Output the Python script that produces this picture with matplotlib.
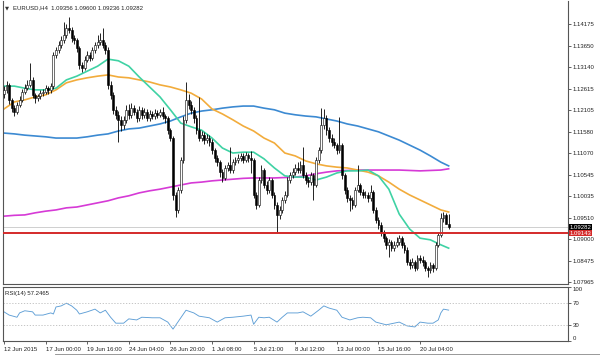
import matplotlib
matplotlib.use('Agg')

import numpy as np
import matplotlib.pyplot as plt

# EURUSD H4 candles
first_open = 1.1250
closes = [
    1.1259, 1.1271, 1.1235, 1.1215, 1.1206, 1.1223, 1.1235, 1.1254, 1.1263, 1.1271,
    1.1283, 1.1247, 1.1239, 1.1244, 1.1251, 1.1254, 1.1263, 1.1259, 1.1268, 1.1343,
    1.1355, 1.1367, 1.1379, 1.1391, 1.1408, 1.1403, 1.1384, 1.1379, 1.1360, 1.1319,
    1.1312, 1.1331, 1.1343, 1.1336, 1.1355, 1.1367, 1.1374, 1.1379, 1.1367, 1.1355,
    1.1271, 1.1247, 1.1211, 1.1199, 1.1187, 1.1174, 1.1187, 1.1211, 1.1199, 1.1215,
    1.1206, 1.1191, 1.1211, 1.1199, 1.1206, 1.1191, 1.1201, 1.1196, 1.1203, 1.1199,
    1.1206, 1.1196, 1.1191, 1.1162, 1.1143, 1.1006, 1.0970, 1.1018, 1.1090, 1.1187,
    1.1235, 1.1223, 1.1211, 1.1191, 1.1162, 1.1143, 1.1150, 1.1138, 1.1143, 1.1134,
    1.1114, 1.1095, 1.1085, 1.1061, 1.1047, 1.1071, 1.1078, 1.1066, 1.1085, 1.1090,
    1.1095, 1.1100, 1.1090, 1.1102, 1.1095, 1.1090, 1.1006, 1.0982, 1.1042, 1.1066,
    1.1030, 1.1018, 1.1042, 1.1006, 1.0982, 1.0958, 1.0970, 1.0994, 1.1006, 1.1042,
    1.1054, 1.1061, 1.1071, 1.1066, 1.1078, 1.1054, 1.1042, 1.1037, 1.1054, 1.1030,
    1.1090, 1.1114, 1.1174, 1.1191, 1.1162, 1.1143, 1.1134, 1.1126, 1.1114, 1.1126,
    1.1054, 1.1018, 1.0999, 1.0994, 1.0982, 1.1018, 1.1030, 1.1013, 1.1006, 1.1006,
    1.0999, 1.1013, 1.0970, 1.0946, 1.0934, 1.0917, 1.0902, 1.0886, 1.0893, 1.0878,
    1.0886, 1.0893, 1.0902, 1.0886, 1.0874, 1.0845, 1.0837, 1.0845, 1.0830, 1.0854,
    1.0850, 1.0845, 1.0830, 1.0825, 1.0837, 1.0830, 1.0886, 1.0910, 1.0951, 1.0958,
    1.0936, 1.0928,
]
highs = [
    1.1268, 1.1280, 1.1276, 1.1240, 1.1222, 1.1230, 1.1245, 1.1262, 1.1272, 1.1282,
    1.1324, 1.1290, 1.1252, 1.1250, 1.1258, 1.1262, 1.1270, 1.1268, 1.1275, 1.1350,
    1.1362, 1.1376, 1.1388, 1.1422, 1.1418, 1.1434, 1.1410, 1.1392, 1.1385, 1.1365,
    1.1325, 1.1340, 1.1352, 1.1350, 1.1362, 1.1375, 1.1390, 1.1395, 1.1408, 1.1375,
    1.1362, 1.1280, 1.1255, 1.1220, 1.1208, 1.1195, 1.1196, 1.1222, 1.1225, 1.1228,
    1.1222, 1.1212, 1.1220, 1.1218, 1.1215, 1.1212, 1.1210, 1.1208, 1.1212, 1.1210,
    1.1214, 1.1218, 1.1202, 1.1195, 1.1168, 1.1148, 1.1012, 1.1025, 1.1098, 1.1195,
    1.1278, 1.1250, 1.1232, 1.1218, 1.1198, 1.1242, 1.1160, 1.1158, 1.1152, 1.1150,
    1.1140, 1.1120, 1.1102, 1.1090, 1.1068, 1.1078, 1.1085, 1.1122, 1.1092, 1.1098,
    1.1104, 1.1108, 1.1106, 1.1110, 1.1108, 1.1112, 1.1095, 1.1012, 1.1050, 1.1078,
    1.1072, 1.1040, 1.1050, 1.1048, 1.1012, 1.0990, 1.0980, 1.1002, 1.1015, 1.1050,
    1.1062, 1.1070, 1.1080, 1.1085, 1.1088, 1.1122, 1.1062, 1.1050, 1.1062, 1.1060,
    1.1098, 1.1122, 1.1215, 1.1212, 1.1198, 1.1170, 1.1152, 1.1142, 1.1132, 1.1194,
    1.1130, 1.1060, 1.1025, 1.1006, 1.1000, 1.1025, 1.1078, 1.1036, 1.1020, 1.1015,
    1.1012, 1.1030, 1.1018, 1.0976, 1.0952, 1.0940, 1.0922, 1.0908, 1.0900, 1.0898,
    1.0895, 1.0905, 1.0910, 1.0908, 1.0892, 1.0880, 1.0852, 1.0855, 1.0850, 1.0862,
    1.0862, 1.0858, 1.0850, 1.0836, 1.0845, 1.0842, 1.0892, 1.0918, 1.0962, 1.0965,
    1.0963, 1.0960,
]
lows = [
    1.1240, 1.1252, 1.1226, 1.1205, 1.1196, 1.1200, 1.1218, 1.1230, 1.1248, 1.1258,
    1.1265, 1.1240, 1.1228, 1.1232, 1.1236, 1.1244, 1.1248, 1.1250, 1.1252, 1.1262,
    1.1336, 1.1348, 1.1360, 1.1372, 1.1385, 1.1395, 1.1375, 1.1370, 1.1350, 1.1310,
    1.1302, 1.1306, 1.1325, 1.1328, 1.1330, 1.1348, 1.1360, 1.1366, 1.1360, 1.1345,
    1.1262, 1.1238, 1.1200, 1.1188, 1.1134, 1.1160, 1.1165, 1.1180, 1.1190, 1.1192,
    1.1198, 1.1182, 1.1185, 1.1190, 1.1192, 1.1184, 1.1185, 1.1188, 1.1190, 1.1192,
    1.1194, 1.1190, 1.1180, 1.1152, 1.1135, 1.0995, 1.0953, 1.0962, 1.1010, 1.1082,
    1.1180, 1.1212, 1.1200, 1.1180, 1.1152, 1.1135, 1.1135, 1.1128, 1.1130, 1.1125,
    1.1105, 1.1086, 1.1076, 1.1050, 1.1038, 1.1042, 1.1064, 1.1058, 1.1060, 1.1078,
    1.1084, 1.1088, 1.1082, 1.1085, 1.1086, 1.1060, 1.0998, 1.0972, 1.0976, 1.1035,
    1.1022, 1.1008, 1.1010, 1.0998, 1.0972, 1.0914, 1.0948, 1.0962, 1.0986, 1.1000,
    1.1035, 1.1046, 1.1054, 1.1058, 1.1060, 1.1046, 1.1032, 1.1026, 1.1030, 1.0994,
    1.1024, 1.1084, 1.1108, 1.1165, 1.1150, 1.1134, 1.1125, 1.1118, 1.1105, 1.1108,
    1.1045, 1.1008, 1.0990, 1.0967, 1.0972, 1.0976, 1.1012, 1.1005, 1.0998, 1.0998,
    1.0990, 1.0992, 1.0962, 1.0938, 1.0925, 1.0908, 1.0892, 1.0876, 1.0857, 1.0870,
    1.0870, 1.0880, 1.0886, 1.0878, 1.0866, 1.0838, 1.0828, 1.0830, 1.0822, 1.0825,
    1.0842, 1.0836, 1.0822, 1.0809, 1.0818, 1.0820, 1.0825, 1.0880, 1.0904, 1.0940,
    1.0935, 1.0924,
]

# moving averages, sampled every 4 bars
ma_idx = [0, 4, 8, 12, 16, 20, 24, 28, 32, 36, 40, 44, 48, 52, 56, 60, 64, 68, 72, 76,
          80, 84, 88, 92, 96, 100, 104, 108, 112, 116, 120, 124, 128, 132, 136, 140,
          144, 148, 152, 156, 160, 164, 168, 171]
ma_teal = [1.1268, 1.1268, 1.1263, 1.1259, 1.1259, 1.1263, 1.1283, 1.1292, 1.1304, 1.1316,
           1.1333, 1.1329, 1.1316, 1.1290, 1.1266, 1.1242, 1.1211, 1.1179, 1.1170, 1.1162,
           1.1143, 1.1119, 1.1107, 1.1109, 1.1109, 1.1093, 1.1071, 1.1052, 1.1049, 1.1049,
           1.1042, 1.1049, 1.1059, 1.1064, 1.1064, 1.1066, 1.1052, 1.1020, 1.0960, 1.0924,
           1.0902, 1.0898, 1.0886, 1.0878]
ma_orange = [1.1213, 1.1230, 1.1235, 1.1242, 1.1247, 1.1259, 1.1276, 1.1283, 1.1288, 1.1292,
             1.1295, 1.1290, 1.1288, 1.1283, 1.1278, 1.1271, 1.1266, 1.1259, 1.1251, 1.1237,
             1.1213, 1.1201, 1.1187, 1.1172, 1.1160, 1.1143, 1.1131, 1.1107, 1.1100, 1.1088,
             1.1081, 1.1076, 1.1073, 1.1071, 1.1066, 1.1061, 1.1052, 1.1037, 1.1020, 1.1006,
             1.0994, 1.0982, 1.0970, 1.0965]
ma_blue = [1.1155, 1.1153, 1.1150, 1.1148, 1.1146, 1.1143, 1.1143, 1.1143, 1.1146, 1.1150,
           1.1153, 1.1160, 1.1165, 1.1167, 1.1172, 1.1177, 1.1184, 1.1194, 1.1203, 1.1208,
           1.1211, 1.1215, 1.1218, 1.1220, 1.1220, 1.1215, 1.1211, 1.1203, 1.1199, 1.1196,
           1.1194, 1.1189, 1.1184, 1.1177, 1.1172, 1.1165, 1.1158, 1.1148, 1.1138, 1.1126,
           1.1114, 1.1100, 1.1085, 1.1076]
ma_magenta = [1.0955, 1.0957, 1.0958, 1.0963, 1.0967, 1.0970, 1.0975, 1.0977, 1.0982, 1.0987,
              1.0992, 1.0999, 1.1004, 1.1011, 1.1016, 1.1020, 1.1025, 1.1030, 1.1035, 1.1037,
              1.1040, 1.1042, 1.1044, 1.1046, 1.1047, 1.1047, 1.1047, 1.1048, 1.1049, 1.1052,
              1.1057, 1.1061, 1.1064, 1.1065, 1.1066, 1.1066, 1.1066, 1.1066, 1.1066, 1.1065,
              1.1064, 1.1065, 1.1066, 1.1069]

# RSI(14)
rsi_idx = [0, 2, 5, 6, 8, 11, 12, 15, 18, 19, 20, 22, 24, 26, 28, 29, 32, 35, 37, 39,
           41, 43, 46, 48, 51, 53, 57, 60, 63, 65, 68, 70, 73, 75, 79, 82, 85, 88, 92,
           95, 96, 98, 100, 102, 105, 107, 109, 113, 115, 118, 121, 123, 125, 128, 130,
           133, 136, 138, 141, 143, 147, 150, 152, 155, 158, 160, 163, 165, 167, 168,
           169, 171]
rsi_val = [54, 48, 44, 52, 56, 54, 48, 48, 52, 50, 63, 65, 70, 65, 57, 50, 54, 59, 52, 57,
           44, 33, 33, 41, 39, 44, 43, 43, 35, 22, 43, 57, 52, 46, 43, 35, 43, 44, 46,
           48, 31, 44, 43, 44, 35, 44, 52, 52, 54, 46, 57, 65, 61, 57, 44,
           39, 43, 44, 43, 35, 30, 33, 35, 28, 26, 35, 33, 33, 39, 52,
           59, 57.2]

price_ticks = [1.14175, 1.13650, 1.13140, 1.12615, 1.12105, 1.11580, 1.11070,
               1.10545, 1.10035, 1.09510, 1.09000, 1.08475, 1.07965]
date_idx = [0, 16, 32, 48, 64, 80, 96, 112, 128, 144, 160]
date_labels = ['12 Jun 2015', '17 Jun 00:00', '19 Jun 16:00', '24 Jun 04:00',
               '26 Jun 20:00', '1 Jul 08:00', '5 Jul 21:00', '8 Jul 12:00',
               '13 Jul 00:00', '15 Jul 16:00', '20 Jul 04:00']
bid = 1.09282
level = 1.09143

plt.rcParams['font.family'] = ['Liberation Sans', 'DejaVu Sans']
fs = 4.3
W, H = 600, 357

fig = plt.figure(figsize=(6, 3.57), dpi=100)
fig.patch.set_facecolor('white')


def px_rect(x0, y0, x1, y1):
    return [x0 / W, 1 - y1 / H, (x1 - x0) / W, (y1 - y0) / H]


ax = fig.add_axes(px_rect(3, 1, 568, 284))
ax2 = fig.add_axes(px_rect(3, 287, 568, 341))

x = np.arange(len(closes))
opens = np.array([first_open] + closes[:-1])
c = np.array(closes)
up = c >= opens

ax.vlines(x, lows, highs, color='black', lw=0.6, zorder=3)
body_lo = np.minimum(opens, c)
body_h = np.maximum(np.abs(c - opens), 0.00008)
ax.bar(x, body_h, bottom=body_lo, width=0.7,
       color=np.where(up, 'white', 'black'), edgecolor='black', lw=0.4, zorder=4)

ax.plot(ma_idx, ma_magenta, color='#d63ad6', lw=1.2, zorder=2)
ax.plot(ma_idx, ma_blue, color='#3c8ad2', lw=1.2, zorder=2)
ax.plot(ma_idx, ma_orange, color='#f2ac3c', lw=1.2, zorder=2)
ax.plot(ma_idx, ma_teal, color='#3fd2a4', lw=1.2, zorder=2)

ax.axhline(bid, color='#c8c8c8', lw=0.6, zorder=1)
ax.axhline(level, color='#d42a2a', lw=1.4, zorder=5)

xmin, xmax = -0.38, 216.9
ax.set_xlim(xmin, xmax)
ax.set_ylim(1.07917, 1.14729)
ax.set_xticks([])
ax.yaxis.tick_right()
ax.set_yticks(price_ticks)
ax.set_yticklabels(['%.5f' % v for v in price_ticks])
ax.tick_params(axis='y', labelsize=fs, length=2, width=0.5, pad=1.5, colors='#222222')
ax.spines['top'].set_visible(False)
for s in ['left', 'right', 'bottom']:
    ax.spines[s].set_color('#555555')
    ax.spines[s].set_linewidth(0.8)

# price tags on the axis
for val, col in [(bid, 'black'), (level, '#d42a2a')]:
    ax.text(1.003, val, '%.5f' % val, transform=ax.get_yaxis_transform(),
            ha='left', va='center', fontsize=fs, color='white', zorder=10,
            bbox=dict(boxstyle='square,pad=0.15', fc=col, ec='none'),
            clip_on=False)

# RSI panel
ax2.plot(rsi_idx, rsi_val, color='#5f9fd6', lw=0.65)
ax2.axhline(70, color='#bbbbbb', lw=0.6, ls=(0, (1.5, 2)))
ax2.axhline(30, color='#bbbbbb', lw=0.6, ls=(0, (1.5, 2)))
ax2.set_xlim(xmin, xmax)
ax2.set_ylim(0, 100)
ax2.yaxis.tick_right()
ax2.set_yticks([100, 70, 30, 0])
ax2.set_yticklabels(['100', '70', '30', '0'])
ax2.tick_params(axis='y', labelsize=fs, length=2, width=0.5, pad=1.5, colors='#222222')
ylab = ax2.get_yticklabels()
ylab[0].set_va('top')
ylab[3].set_va('bottom')
ax2.set_xticks(date_idx)
ax2.set_xticklabels(date_labels, ha='left')
ax2.tick_params(axis='x', labelsize=fs, length=2.5, width=0.5, pad=1.5, colors='#222222')
for s in ax2.spines.values():
    s.set_color('#555555')
    s.set_linewidth(0.8)

fig.text(5 / W, 1 - 8 / H, '\u25bc', fontsize=3.8, color='#333333', va='center',
         family='DejaVu Sans')
fig.text(13 / W, 1 - 8 / H, 'EURUSD,H4  1.09356 1.09600 1.09236 1.09282',
         fontsize=fs, color='#222222', va='center')
fig.text(5 / W, 1 - 293 / H, 'RSI(14) 57.2465', fontsize=fs, color='#222222',
         va='center')

# bottom window edge
fig.add_artist(plt.Line2D([55 / W, 1], [1 - 354 / H] * 2, color='#888888', lw=0.6))

fig.savefig('out.png', dpi=100, facecolor='white')
